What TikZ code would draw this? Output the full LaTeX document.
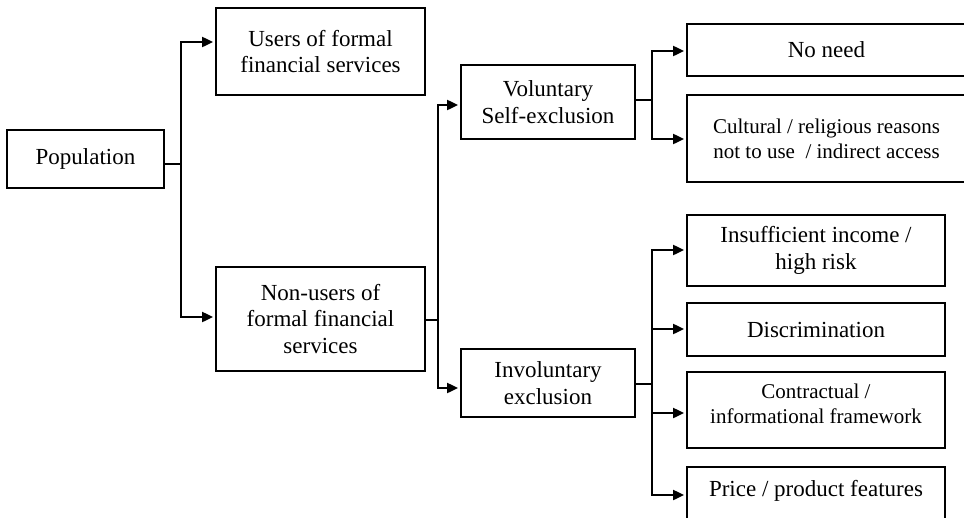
\documentclass[tikz,border=0pt]{standalone}
\usepackage{fontspec}
\setmainfont{Liberation Serif}
\usetikzlibrary{arrows.meta}
\tikzset{
  box/.style={draw, line width=1.8pt, inner sep=0pt, align=center,
    font=\fontsize{23}{26.5}\selectfont},
  smallbox/.style={box, font=\fontsize{21}{25}\selectfont},
  conn/.style={line width=2pt},
  stub/.style={line width=1.2pt},
  tip/.style={-{Triangle[length=11pt,width=10pt]}, shorten >=2pt},
  bitip/.style={{Triangle[length=11pt,width=10pt]}-{Triangle[length=11pt,width=10pt]}, shorten >=2pt, shorten <=2pt}
}
\begin{document}
\begin{tikzpicture}[x=1pt,y=-1pt]
\useasboundingbox (0,0) rectangle (964,517);
\fill[white] (0,0) rectangle (964,517);
\begin{scope}
\clip (0,0) rectangle (964,517);
% boxes
\node[box, minimum width=157pt, minimum height=58pt] (pop) at (85.5,159) {Population};
\node[box, minimum width=209pt, minimum height=87pt] (users) at (320.5,51.5) {Users of formal\\financial services};
\node[box, minimum width=209pt, minimum height=104pt] (nonusers) at (320.5,319) {Non-users of\\formal financial\\services};
\node[box, minimum width=174pt, minimum height=74pt] (vol) at (548,102) {Voluntary\\Self-exclusion};
\node[box, minimum width=174pt, minimum height=68pt] (invol) at (548,383) {Involuntary\\exclusion};
\node[box, minimum width=279pt, minimum height=52pt] (noneed) at (826.5,50) {No need};
\node[smallbox, minimum width=279pt, minimum height=87pt] (cult) at (826.5,138.5) {Cultural / religious reasons\\not to use\ \ / indirect access};
\node[box, minimum width=258pt, minimum height=71pt] (insuff) at (816,250.5) {Insufficient income /\\high risk};
\node[box, minimum width=258pt, minimum height=53pt] (discr) at (816,329.5) {Discrimination};
\node[smallbox, minimum width=258pt, minimum height=76pt, text depth=12pt] (contr) at (816,410) {Contractual /\\informational framework};
\node[box, minimum width=258pt, anchor=north, text height=30pt, text depth=40pt] (price) at (816,466) {Price / product features};
% junction coordinates
\coordinate (j1) at (181,164);
\coordinate (a1) at (181,42);
\coordinate (a2) at (181,317);
\coordinate (j2) at (438,320);
\coordinate (b1) at (438,105);
\coordinate (b2) at (438,388);
\coordinate (j3) at (652,100);
\coordinate (c1) at (652,51);
\coordinate (c2) at (652,139);
\coordinate (j4) at (652,384);
\coordinate (d1) at (652,250);
\coordinate (d2) at (652,329);
\coordinate (d3) at (652,413);
\coordinate (d4) at (652,495);
% connectors
\draw[stub] (j1 -| pop.east) -- (j1);
\draw[conn, bitip] (a1 -| users.west) -- (a1) -- (a2) -- (a2 -| nonusers.west);
\draw[stub] (j2 -| nonusers.east) -- (j2);
\draw[conn, bitip] (b1 -| vol.west) -- (b1) -- (b2) -- (b2 -| invol.west);
\draw[stub] (j3 -| vol.east) -- (j3);
\draw[conn, bitip] (c1 -| noneed.west) -- (c1) -- (c2) -- (c2 -| cult.west);
\draw[stub] (j4 -| invol.east) -- (j4);
\draw[conn, bitip] (d1 -| insuff.west) -- (d1) -- (d4) -- (d4 -| price.west);
\draw[conn, tip] (d2) -- (d2 -| discr.west);
\draw[conn, tip] (d3) -- (d3 -| contr.west);
\end{scope}
\end{tikzpicture}
\end{document}
